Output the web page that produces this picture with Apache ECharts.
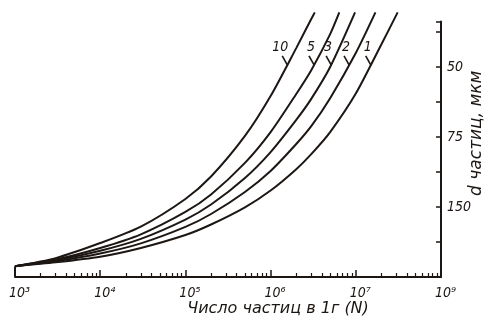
<!DOCTYPE html>
<html>
<head>
<meta charset="utf-8">
<script src="https://cdn.jsdelivr.net/npm/echarts@6/dist/echarts.min.js"></script>
<style>
  html, body { margin: 0; padding: 0; background: #ffffff; }
  #chart { width: 490px; height: 329px; }
</style>
</head>
<body>
<div id="chart"></div>
<script>
// Particle count per gram (N) and curve height in right-axis tick units.
const curve10N = [1e3, 3e3, 1e4, 3e4, 1e5, 2e5, 5e5, 1e6, 2e6, 3e6, 3.3e6];
const curve10Y = [0.31, 0.54, 0.97, 1.44, 2.23, 2.87, 4.03, 5.17, 6.54, 7.37, 7.56];

const curve5N = [1e3, 3e3, 1e4, 3e4, 1e5, 2e5, 5e5, 1e6, 2e6, 3e6, 5e6, 6.4e6];
const curve5Y = [0.31, 0.50, 0.83, 1.22, 1.86, 2.36, 3.26, 4.14, 5.23, 5.91, 6.94, 7.56];

const curve3N = [1e3, 3e3, 1e4, 3e4, 1e5, 2e5, 5e5, 1e6, 2e6, 3e6, 5e6, 9.8e6];
const curve3Y = [0.31, 0.48, 0.75, 1.09, 1.64, 2.07, 2.83, 3.57, 4.49, 5.09, 6.00, 7.56];

const curve2N = [1e3, 3e3, 1e4, 3e4, 1e5, 2e5, 5e5, 1e6, 2e6, 3e6, 5e6, 1e7, 1.7e7];
const curve2Y = [0.31, 0.45, 0.67, 0.96, 1.43, 1.80, 2.43, 3.03, 3.80, 4.31, 5.11, 6.40, 7.56];

const curve1N = [1e3, 3e3, 1e4, 3e4, 1e5, 2e5, 5e5, 1e6, 2e6, 3e6, 5e6, 1e7, 2e7, 3.1e7];
const curve1Y = [0.31, 0.42, 0.58, 0.83, 1.20, 1.50, 1.99, 2.47, 3.08, 3.51, 4.14, 5.24, 6.65, 7.56];

const curveNames = ['10', '5', '3', '2', '1'];

// Axis texts
const xTickLabels = ['10³', '10⁴', '10⁵', '10⁶', '10⁷', '10⁹'];
const yTickLabels = ['', '', '150', '', '75', '', '50', ''];
const xAxisTitle = 'Число частиц в 1г (N)';
const yAxisTitle = 'd частиц, мкм';

const INK = '#1d1714';
const NARROW = 'DejaVu Sans Condensed';
const WIDE = 'DejaVu Sans';
const LABEL_LEVEL = 6.06; // height at which curve tags attach

const curves = [
  [curve10N, curve10Y],
  [curve5N, curve5Y],
  [curve3N, curve3Y],
  [curve2N, curve2Y],
  [curve1N, curve1Y]
];

const zip = (xs, ys) => xs.map((x, i) => [x, ys[i]]);

// minor tick positions (log10 of 2..9 × 10^d) for the overlay axis
const minorTicks = [];
for (let d = 3; d < 8; d++) {
  for (let k = 2; k <= 9; k++) minorTicks.push(Math.log10(k * Math.pow(10, d)));
}

const chart = echarts.init(document.getElementById('chart'), null, { renderer: 'canvas' });

const series = curves.map(([xs, ys], i) => ({
  name: curveNames[i],
  type: 'line',
  data: zip(xs, ys),
  xAxisIndex: 0,
  yAxisIndex: 0,
  smooth: 0.25,
  symbol: 'none',
  clip: false,
  lineStyle: { color: INK, width: 2 },
  z: 3
}));

// short stub closing the left end of the baseline up to the common origin
series.push({
  type: 'line',
  data: [[curve10N[0], 0], [curve10N[0], curve10Y[0]]],
  symbol: 'none',
  lineStyle: { color: INK, width: 2 },
  z: 3
});

chart.setOption({
  animation: false,
  backgroundColor: '#ffffff',
  grid: {
    left: 15, right: 49, top: 21.5, bottom: 52,
    containLabel: false,
    outerBoundsMode: 'none'
  },
  xAxis: [
    {
      type: 'log',
      logBase: 10,
      min: 1e3,
      max: 1e8,
      position: 'bottom',
      axisLine: { show: true, lineStyle: { color: INK, width: 2 } },
      axisTick: { show: true, inside: true, length: 7, lineStyle: { color: INK, width: 1.5 } },
      minorTick: { show: false },
      splitLine: { show: false },
      axisLabel: {
        show: true,
        margin: 9,
        color: INK,
        fontFamily: NARROW,
        fontStyle: 'italic',
        fontSize: 14,
        padding: [0, 0, 0, 9],
        formatter: v => xTickLabels[Math.round(Math.log10(v)) - 3] || ''
      },
      name: xAxisTitle,
      nameLocation: 'middle',
      nameGap: 24,
      nameMoveOverlap: false,
      nameTextStyle: {
        color: INK,
        fontFamily: WIDE,
        fontStyle: 'italic',
        fontSize: 16,
        padding: [0, 0, 0, 100]
      }
    },
    {
      type: 'value',
      min: 3,
      max: 8,
      position: 'bottom',
      axisLine: { show: false },
      axisTick: {
        show: true,
        inside: true,
        length: 4,
        customValues: minorTicks,
        lineStyle: { color: INK, width: 1.2 }
      },
      axisLabel: { show: false },
      splitLine: { show: false }
    }
  ],
  yAxis: {
    type: 'value',
    position: 'right',
    min: 0,
    max: 7.3,
    interval: 1,
    axisLine: { show: true, lineStyle: { color: INK, width: 2 } },
    axisTick: { show: true, inside: true, length: 5, lineStyle: { color: INK, width: 1.5 } },
    splitLine: { show: false },
    axisLabel: {
      show: true,
      margin: 6,
      color: INK,
      fontFamily: NARROW,
      fontStyle: 'italic',
      fontSize: 14,
      formatter: v => yTickLabels[Math.round(v)] || ''
    },
    name: yAxisTitle,
    nameLocation: 'middle',
    nameRotate: 90,
    nameGap: 27,
    nameMoveOverlap: false,
    nameTextStyle: {
      color: INK,
      fontFamily: WIDE,
      fontStyle: 'italic',
      fontSize: 17,
      padding: [0, 0, 0, 32]
    }
  },
  series: series
});

// Curve tags: a short leader meets each curve at LABEL_LEVEL, number above it
function crossingAt(xs, ys, level) {
  for (let i = 1; i < ys.length; i++) {
    if (ys[i - 1] <= level && ys[i] >= level) {
      const t = (level - ys[i - 1]) / (ys[i] - ys[i - 1]);
      const lx = Math.log10(xs[i - 1]) + t * (Math.log10(xs[i]) - Math.log10(xs[i - 1]));
      return Math.pow(10, lx);
    }
  }
  return xs[xs.length - 1];
}

const tagGraphics = [];
curves.forEach(([xs, ys], i) => {
  const n = crossingAt(xs, ys, LABEL_LEVEL);
  const p = chart.convertToPixel({ xAxisIndex: 0, yAxisIndex: 0 }, [n, LABEL_LEVEL]);
  tagGraphics.push({
    type: 'line',
    shape: { x1: p[0] - 5, y1: p[1] - 9, x2: p[0], y2: p[1] },
    style: { stroke: INK, lineWidth: 1.6 },
    z: 10
  });
  tagGraphics.push({
    type: 'text',
    x: p[0] + 1,
    y: p[1] - 18,
    style: {
      text: curveNames[i],
      fill: INK,
      font: 'italic 14px "' + NARROW + '"',
      align: 'right',
      verticalAlign: 'middle'
    },
    z: 10
  });
});
chart.setOption({ graphic: tagGraphics });
</script>
</body>
</html>
